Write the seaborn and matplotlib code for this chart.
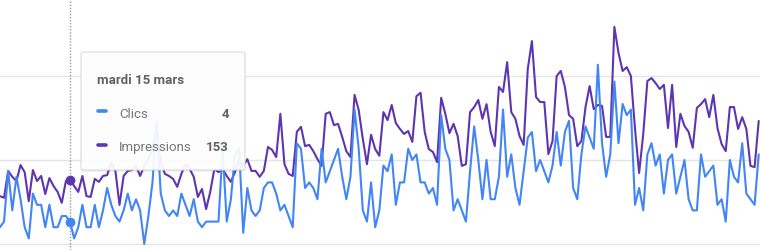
import numpy as np
import pandas as pd
import matplotlib
matplotlib.use("Agg")
import matplotlib.pyplot as plt
import seaborn as sns
from matplotlib.patches import FancyBboxPatch

# ---------------- data ----------------
days = list(range(185))

clics = [3, 4, 13, 6, 12, 8, 3, 1, 9, 7,
         7, 3, 7, 3, 3, 5, 5, 4, 1, 3,
         7, 3, 3, 7, 3, 6, 10, 7, 5, 4,
         6, 9, 6, 8, 6, 0, 5, 11, 22, 9,
         6, 5, 6, 5, 9, 7, 5, 8, 4, 3,
         4, 4, 4, 4, 17, 4, 8, 16, 17, 2,
         10, 6, 5, 6, 10, 11, 11, 9, 6, 7,
         5, 3, 18, 17, 10, 11, 10, 8, 17, 11,
         13, 15, 17, 12, 8, 12, 24, 17, 6, 4,
         11, 3, 6, 14, 13, 16, 7, 11, 11, 17,
         15, 16, 11, 11, 9, 10, 7, 23, 17, 15,
         6, 8, 6, 4, 13, 21, 15, 8, 15, 8,
         8, 12, 24, 12, 16, 10, 7, 13, 19, 20,
         13, 15, 13, 11, 14, 20, 14, 20, 22, 10,
         8, 16, 21, 19, 17, 32, 18, 12, 16, 29,
         18, 25, 23, 24, 7, 10, 6, 16, 18, 14,
         16, 9, 15, 16, 9, 12, 15, 8, 6, 6,
         16, 12, 13, 14, 7, 8, 4, 15, 12, 11,
         18, 9, 8, 7, 16]

impressions = [114, 110, 174, 160, 150, 188, 171, 102, 176, 150,
               162, 119, 157, 138, 124, 98, 150, 153, 138, 124,
               162, 114, 112, 155, 148, 162, 164, 195, 174, 93,
               162, 174, 176, 186, 162, 186, 202, 226, 274, 195,
               167, 162, 155, 136, 167, 190, 179, 160, 112, 131,
               83, 124, 179, 171, 179, 162, 148, 171, 202, 186,
               202, 174, 174, 160, 174, 231, 224, 207, 310, 190,
               167, 162, 267, 279, 233, 236, 221, 202, 186, 310,
               314, 283, 286, 255, 221, 207, 355, 319, 250, 190,
               260, 226, 210, 314, 295, 331, 288, 274, 262, 269,
               243, 352, 360, 267, 226, 219, 195, 348, 310, 264,
               286, 257, 186, 190, 314, 326, 343, 298, 333, 267,
               233, 374, 362, 433, 314, 298, 257, 236, 417, 483,
               350, 338, 338, 214, 245, 400, 412, 374, 307, 298,
               233, 245, 326, 376, 321, 331, 329, 255, 255, 517,
               455, 412, 421, 400, 274, 169, 262, 388, 395, 383,
               369, 379, 276, 379, 231, 310, 281, 267, 229, 324,
               333, 345, 302, 355, 276, 238, 221, 326, 326, 274,
               302, 274, 186, 183, 293]

series_names = ["Clics", "Impressions"]
tooltip_date = "mardi 15 mars"
tooltip_day = 17

# ---------------- style ----------------
sns.set_theme(style="white")
plt.rcParams['font.family'] = ['Roboto', 'DejaVu Sans']

BLUE = "#4285f4"
PURPLE = "#5e35b1"

df = pd.DataFrame({"jour": days, "Clics": clics, "Impressions": impressions})

fig = plt.figure(figsize=(7.6, 2.51), dpi=100)
ax = fig.add_axes([0, 0, 1, 1])

# Impressions (right-hand scale in the original, hidden)
sns.lineplot(data=df, x="jour", y="Impressions", ax=ax, color=PURPLE, lw=1.5)
ax.set_xlim(0.02, 184.31)
ax.set_ylim(-14.29, 583.33)
ax.set_yticks([0, 200, 400])
ax.grid(axis="y", color="#e4e4e4", lw=1)
ax.grid(axis="x", visible=False)

# Clics (left-hand scale, hidden)
ax2 = ax.twinx()
sns.lineplot(data=df, x="jour", y="Clics", ax=ax2, color=BLUE, lw=1.5)
ax2.set_ylim(-1.071, 43.75)
ax2.grid(False)

for a in (ax, ax2):
    a.set_xlabel("")
    a.set_ylabel("")
    a.tick_params(length=0, labelleft=False, labelright=False, labelbottom=False)
    for s in a.spines.values():
        s.set_visible(False)

# hover line and points
ax.axvline(tooltip_day, color="#9a9a9a", lw=1, ls=(0, (1, 1.2)), zorder=1)
ax.plot([tooltip_day], [impressions[tooltip_day]], "o", color=PURPLE, ms=6, zorder=5)
ax2.plot([tooltip_day], [clics[tooltip_day]], "o", color=BLUE, ms=6, zorder=5)

# ---------------- tooltip overlay ----------------
ov = fig.add_axes([0, 0, 1, 1], zorder=10)
ov.set_xlim(0, 760)
ov.set_ylim(251, 0)
ov.axis("off")

shadow = FancyBboxPatch((81, 54), 164, 119, boxstyle="round,pad=0,rounding_size=2",
                        fc=(0, 0, 0, 0.06), ec="none")
ov.add_patch(shadow)
box = FancyBboxPatch((81, 53), 164, 118, boxstyle="round,pad=0,rounding_size=2",
                     fc=(1, 1, 1, 0.93), ec="#dadada", lw=0.8)
ov.add_patch(box)

ov.text(97, 84, tooltip_date, fontsize=9.5, fontweight="bold", color="#616161",
        ha="left", va="baseline")

rows = [(series_names[0], clics[tooltip_day], BLUE, 112, 118),
        (series_names[1], impressions[tooltip_day], PURPLE, 146, 151.5)]
for name, val, col, ydash, ybase in rows:
    ov.plot([98, 105.5], [ydash, ydash], color=col, lw=2.6, solid_capstyle="round")
    ov.text(119, ybase, name, fontsize=9.5, color="#757575", ha="left", va="baseline")
    ov.text(229, ybase, f"{val}", fontsize=9.5, fontweight="bold", color="#616161",
            ha="right", va="baseline")

fig.savefig("out.png", dpi=100)
